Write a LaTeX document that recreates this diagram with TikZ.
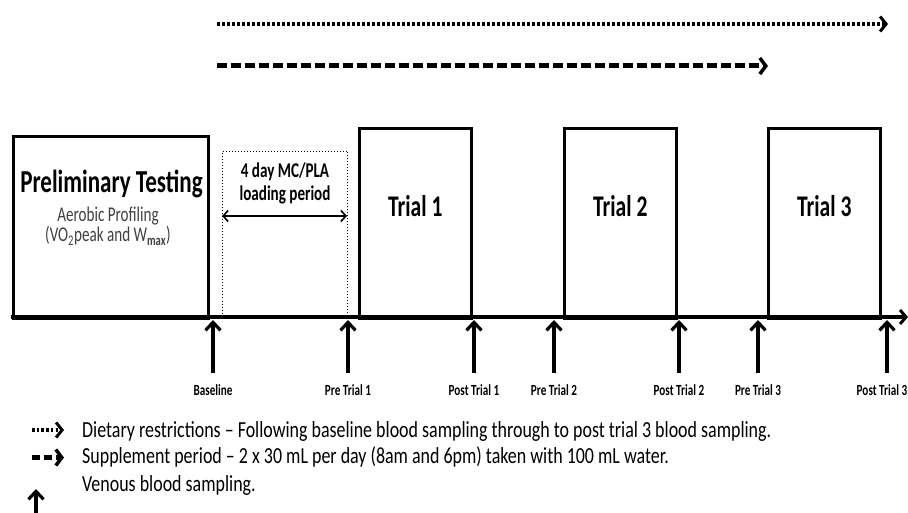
\documentclass[tikz,border=0pt]{standalone}
\usepackage{fontspec}
\newfontfamily\calf[FakeStretch=0.72]{Carlito}
\newfontfamily\calw[FakeStretch=0.78]{Carlito}
\usetikzlibrary{arrows.meta}
\definecolor{subgray}{HTML}{404040}
\begin{document}
\begin{tikzpicture}[x=1pt,y=-1pt,
  phase/.style={draw, line width=2.6pt, inner sep=0pt, anchor=north west, minimum height=190pt, minimum width=112pt},
  loadbox/.style={draw, line width=1pt, dotted, inner sep=0pt, anchor=north west},
  bigtxt/.style={font=\calf\bfseries\fontsize{30}{32}\selectfont, inner sep=0pt, anchor=base},
  subtxt/.style={font=\calf\fontsize{21}{23}\selectfont, text=subgray, inner sep=0pt, anchor=base},
  midtxt/.style={font=\calf\bfseries\fontsize{21}{22}\selectfont, inner sep=0pt, anchor=base},
  smalllab/.style={font=\calf\bfseries\fontsize{15.5}{17}\selectfont, inner sep=0pt, anchor=base},
  legtxt/.style={font=\calw\fontsize{23}{25}\selectfont, inner sep=0pt, anchor=base west},
  axisline/.style={line width=3.4pt, -{Straight Barb[length=6pt,width=14pt,line width=3pt]}},
  sampling/.style={line width=3.2pt, -{Straight Barb[length=8pt,width=15pt,line width=3.2pt]}},
  dietline/.style={line width=3.5pt, dash pattern=on 2.5pt off 2.5pt, -{Straight Barb[length=6pt,width=15pt,line width=3pt]}},
  suppline/.style={line width=5pt, dash pattern=on 9.5pt off 4.5pt, -{Straight Barb[length=6pt,width=16pt,line width=3.5pt]}},
  dblarrow/.style={line width=1.6pt, {Straight Barb[length=5pt,width=11pt,line width=1.6pt]}-{Straight Barb[length=5pt,width=11pt,line width=1.6pt]}}
]
\useasboundingbox (0,0) rectangle (908,513);

% top arrows
\coordinate (d0) at (217,24);
\coordinate (d1) at (888,24);
\draw[dietline] (d0) -- (d1);
\coordinate (s0) at (217,66);
\coordinate (s1) at (768,66);
\draw[suppline] (s0) -- (s1);

% boxes
\node[phase, minimum width=195pt, minimum height=182pt] (prelim) at (12,135) {};
\node[loadbox, minimum width=125pt, minimum height=165pt] (load) at (222,151) {};
\node[phase] (t1) at (358,127) {};
\node[phase] (t2) at (563,127) {};
\node[phase] (t3) at (767,127) {};

% axis
\coordinate (ax0) at (10.7,317);
\coordinate (ax1) at (908,317);
\draw[axisline] (ax0) -- (ax1);

% box texts
\node[bigtxt, font=\calf\bfseries\fontsize{32}{34}\selectfont] (ptitle) at (111.5,193) {Preliminary Testing};
\node[subtxt] (psub1) at (108,221.7) {Aerobic Profiling};
\node[subtxt] (psub2) at (108,242) {(VO\textsubscript{2}peak and W\textsubscript{\textbf{max}})};
\node[midtxt] (ltxt1) at (285,178) {4 day MC/PLA};
\node[midtxt] (ltxt2) at (285,201) {loading period};
\coordinate (la) at (222,216);
\coordinate (lb) at (347,216);
\draw[dblarrow] (la) -- (lb);
\node[bigtxt] (t1txt) at (t1.center |- 0,217) {Trial 1};
\node[bigtxt] (t2txt) at (t2.center |- 0,217) {Trial 2};
\node[bigtxt] (t3txt) at (t3.center |- 0,217) {Trial 3};

% sampling arrows
\foreach \xx/\nm/\lab in {213/a/Baseline, 348/b/Pre Trial 1, 474/c/Post Trial 1, 554/d/Pre Trial 2, 679/e/Post Trial 2, 758/f/Pre Trial 3}{
  \coordinate (tail\nm) at (\xx,373);
  \coordinate (tip\nm) at (\xx,320);
  \draw[sampling] (tail\nm) -- (tip\nm);
  \node[smalllab] (lab\nm) at (\xx,395) {\lab};
}
\coordinate (tailg) at (887,373);
\coordinate (tipg) at (887,320);
\draw[sampling] (tailg) -- (tipg);
\node[smalllab, anchor=base east] (labg) at (907.5,395) {Post Trial 3};

% legend
\coordinate (ld0) at (32,430);
\coordinate (ld1) at (64,430);
\draw[dietline, dash pattern=on 2.5pt off 2.2pt] (ld0) -- (ld1);
\coordinate (ls0) at (32,457.5);
\coordinate (ls1) at (64,457.5);
\draw[suppline, dash pattern=on 8pt off 4pt] (ls0) -- (ls1);
\coordinate (lv0) at (36,513);
\coordinate (lv1) at (36,489);
\draw[sampling] (lv0) -- (lv1);
\node[legtxt] (leg1) at (82,437) {Dietary restrictions – Following baseline blood sampling through to post trial 3 blood sampling.};
\node[legtxt] (leg2) at (82,463) {Supplement period – 2 x 30 mL per day (8am and 6pm) taken with 100 mL water.};
\node[legtxt] (leg3) at (82,491) {Venous blood sampling.};
\end{tikzpicture}
\end{document}
